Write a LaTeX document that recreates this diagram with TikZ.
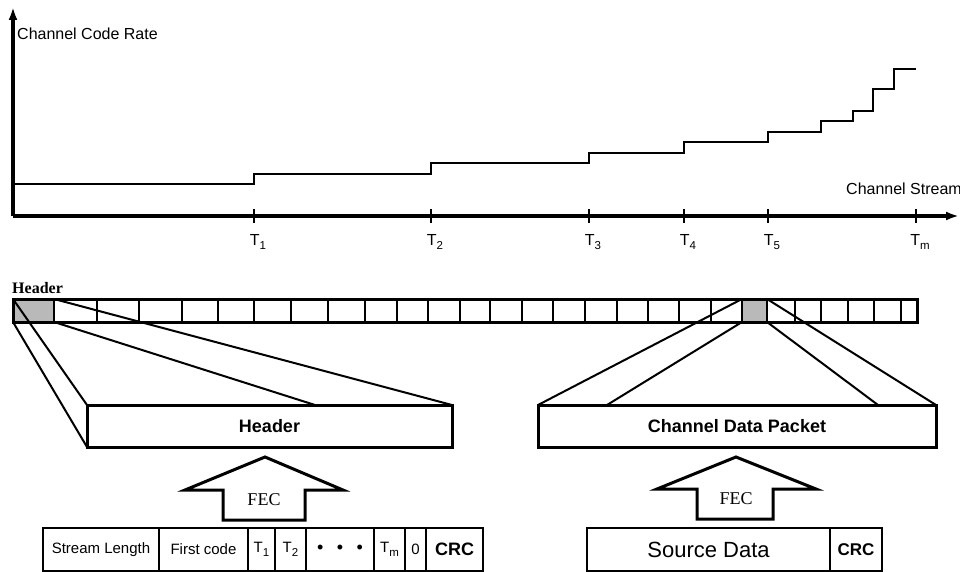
\documentclass[tikz,border=0pt]{standalone}
\usepackage{fontspec}
\setmainfont{Liberation Serif}
\setsansfont{Liberation Sans}
\usetikzlibrary{arrows.meta,positioning}

% T with index, as in the figure
\newcommand{\tidx}[1]{T\raisebox{-0.45ex}{\fontsize{11.5}{12}\selectfont #1}}

\tikzset{
  lbl/.style = {font=\sffamily\fontsize{15}{18}\selectfont, inner sep=0pt},
  axlbl/.style = {font=\sffamily\fontsize{16}{19}\selectfont, inner sep=0pt},
  boxtitle/.style = {font=\sffamily\bfseries\fontsize{18}{21}\selectfont},
  bigbox/.style = {draw, line width=3pt, fill=white, inner sep=0pt, outer sep=0pt,
    anchor=north west, minimum height=42pt, boxtitle},% boite du paquet
  cell/.style = {draw, line width=1.8pt, inner sep=0pt, outer sep=0pt,
    minimum height=23pt, anchor=north west},% case du flux
  hicell/.style = {cell, fill=gray!55},% case grisee
  field/.style = {draw, line width=2.4pt, inner sep=0pt, outer sep=0pt,
    minimum height=43pt, lbl},% champ
  axis/.style = {line width=3.5pt, -{Latex[length=13pt,width=9pt]}},
  fan/.style = {line width=2pt},
  fecarrow/.style = {draw, line width=3pt, line join=miter, fill=white},
  fec/.style = {font=\rmfamily\fontsize{18}{21}\selectfont, inner sep=0pt}
}

\begin{document}
\begin{tikzpicture}[x=1pt, y=-1pt]
  \useasboundingbox (0,0) rectangle (960,572);

  % code rate graph
  \coordinate (o) at (13,216);
  \coordinate (ytop) at (13,7);
  \coordinate (xend) at (959,216);
  \draw[axis] (o) -- (ytop);
  \draw[axis] (o) -- (xend);
  \node[axlbl, anchor=west] (ylabel) at (17,34) {Channel Code Rate};
  \node[axlbl, anchor=west] (xlabel) at (846,189) {Channel Stream};
  \foreach \x/\l in {254/1, 431/2, 589/3, 684/4, 768/5, 916/m} {
    \draw[line width=2.2pt] (\x,209) -- (\x,223);
    \node[axlbl] (t\l) at (\x+4,242) {\tidx{\l}};
  }
  \draw[line width=2.5pt] (13,184) -| (254,174) -| (431,163) -| (589,153) -| (684,142)
    -| (768,132) -| (821,121) -| (853,111) -| (873,89) -| (894,69) -- (916,69);

  % channel stream
  \node[font=\rmfamily\bfseries\fontsize{16}{18}\selectfont, inner sep=0pt, anchor=west]
    (hlabel) at (12,288) {Header};
  \node[hicell, minimum width=41pt] (hcell) at (13,299) {};
  \node[hicell, minimum width=25pt] (dcell) at (742,299) {};
  \foreach \x in {54,97,139,182,218,254,291,328,365,397,428,460,490,522,553,585,
                  617,648,679,711,742,767,795,821,848,874,901}
    \draw[line width=1.8pt] (\x,299) -- (\x,322);
  \node[cell, line width=3pt, minimum width=904pt] (stream) at (13,299) {};

  % packets
  \node[bigbox, minimum width=365pt] (hdr) at (87,405) {Header};
  \node[bigbox, minimum width=398pt] (pkt) at (538,405) {Channel Data Packet};
  \coordinate (hdrmid) at (315,405);
  \coordinate (pktleft) at (607,405);
  \coordinate (pktright) at (878,405);
  \draw[fan] (hcell.north west) -- (hdr.north west);
  \draw[fan] (hcell.south west) -- (hdr.south west);
  \draw[fan] (hcell.north east) -- (hdr.north east);
  \draw[fan] (hcell.south east) -- (hdrmid);
  \draw[fan] (dcell.north west) -- (pkt.north west);
  \draw[fan] (dcell.south west) -- (pktleft);
  \draw[fan] (dcell.south east) -- (pktright);
  \draw[fan] (dcell.north east) -- (pkt.north east);

  % FEC arrows
  \draw[fecarrow] (265,457) -- (343,490) -- (305,490) -- (305,520) -- (223,520)
    -- (223,490) -- (185,490) -- cycle;
  \node[fec] (fec1) at (264,500) {FEC};
  \draw[fecarrow] (736,457) -- (816,489) -- (773,489) -- (773,519) -- (697,519)
    -- (697,489) -- (657,489) -- cycle;
  \node[fec] (fec2) at (736,499) {FEC};

  % header fields
  \node[field, minimum width=116pt, anchor=north west] (slen) at (43,528) {Stream Length};
  \node[field, minimum width=89pt, right=0pt of slen] (fcode) {First code};
  \node[field, minimum width=27pt, right=0pt of fcode] (f1) {\tidx{1}};
  \node[field, minimum width=31pt, right=0pt of f1] (f2) {\tidx{2}};
  \node[field, minimum width=68pt, right=0pt of f2, font=\sffamily\fontsize{18}{20}\selectfont] (fdots)
    {\textbullet\hspace{0.75em}\textbullet\hspace{0.75em}\textbullet};
  \node[field, minimum width=31pt, right=0pt of fdots] (fm) {\tidx{m}};
  \node[field, minimum width=21pt, right=0pt of fm] (fzero) {0};
  \node[field, minimum width=57pt, right=0pt of fzero, boxtitle] (hcrc) {CRC};

  % source fields
  \node[field, minimum width=243pt, anchor=north west, font=\sffamily\fontsize{22}{26}\selectfont]
    (src) at (587,528) {Source Data};
  \node[field, minimum width=52pt, right=0pt of src,
    font=\sffamily\bfseries\fontsize{17}{20}\selectfont] (scrc) {CRC};
\end{tikzpicture}
\end{document}
